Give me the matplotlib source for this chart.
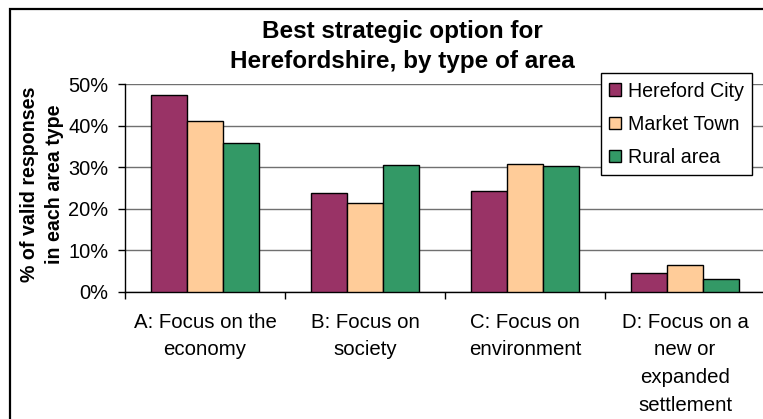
import numpy as np
import matplotlib
matplotlib.use("Agg")
import matplotlib.pyplot as plt
from matplotlib.patches import Rectangle

plt.rcParams['font.family'] = ['Liberation Sans', 'DejaVu Sans']

categories = ["A: Focus on the\neconomy", "B: Focus on\nsociety",
              "C: Focus on\nenvironment", "D: Focus on a\nnew or\nexpanded\nsettlement"]
series_names = ["Hereford City", "Market Town", "Rural area"]
hereford_city = [0.474, 0.238, 0.242, 0.046]
market_town = [0.412, 0.215, 0.307, 0.064]
rural_area = [0.358, 0.306, 0.303, 0.030]
colors = ["#993366", "#FFCC99", "#339966"]
ytick_vals = [0.0, 0.1, 0.2, 0.3, 0.4, 0.5]

W, H = 763, 419
fig = plt.figure(figsize=(W / 100, H / 100), dpi=100)
ax = fig.add_axes([125 / W, 1 - 291.7 / H, 640 / W, (291.7 - 84.3) / H])

x = np.arange(len(categories))
bw = 0.223
for i, (vals, name) in enumerate(zip([hereford_city, market_town, rural_area], series_names)):
    ax.bar(x + (i - 1) * bw, vals, bw, color=colors[i], edgecolor="black",
           linewidth=1.0, label=name, zorder=3)

ax.set_xlim(-0.5, len(categories) - 0.5)
ax.set_ylim(0, 0.5)
ax.set_yticks(ytick_vals)
ax.set_yticklabels([f"{int(round(v * 100))}%" for v in ytick_vals], fontsize=14.4)
ax.yaxis.grid(True, color="#707070", linewidth=1.0, zorder=0)
ax.tick_params(axis="y", direction="out", length=5, width=1, pad=7)

ax.set_xticks(x)
ax.set_xticklabels(categories, fontsize=14.7, linespacing=1.58)
ax.set_xticks(np.arange(len(categories) + 1) - 0.5, minor=True)
ax.tick_params(axis="x", which="major", length=0, pad=15)
ax.tick_params(axis="x", which="minor", direction="out", length=5, width=1)

for s in ["top", "right"]:
    ax.spines[s].set_visible(False)
ax.spines["left"].set_linewidth(1)
ax.spines["bottom"].set_linewidth(1)

# va=baseline anchors the last line here
fig.text(402 / W, 1 - 68.3 / H, "Best strategic option for\nHerefordshire, by type of area",
         ha="center", va="baseline", fontsize=17.5, fontweight="bold", linespacing=1.4,
         multialignment="center")

fig.text(42 / W, 1 - 184 / H, "% of valid responses\nin each area type", rotation=90,
         ha="center", va="center", fontsize=14.1, fontweight="bold", linespacing=1.45,
         multialignment="center")

leg = ax.legend(loc="upper left", bbox_to_anchor=(600.7 / W, 1 - 73.3 / H),
                bbox_transform=fig.transFigure, borderaxespad=0, fontsize=14.1,
                frameon=True, fancybox=False, framealpha=1, edgecolor="black",
                handlelength=0.6, handleheight=0.6, handletextpad=0.35,
                labelspacing=0.72, borderpad=0.42)
leg.get_frame().set_linewidth(1)

# outer chart border
fig.add_artist(Rectangle((10 / W, -0.05), 1.1, 1 - 9 / H + 0.05, transform=fig.transFigure,
                         fill=False, edgecolor="black", linewidth=1.6))

fig.savefig("out.png", dpi=100)
